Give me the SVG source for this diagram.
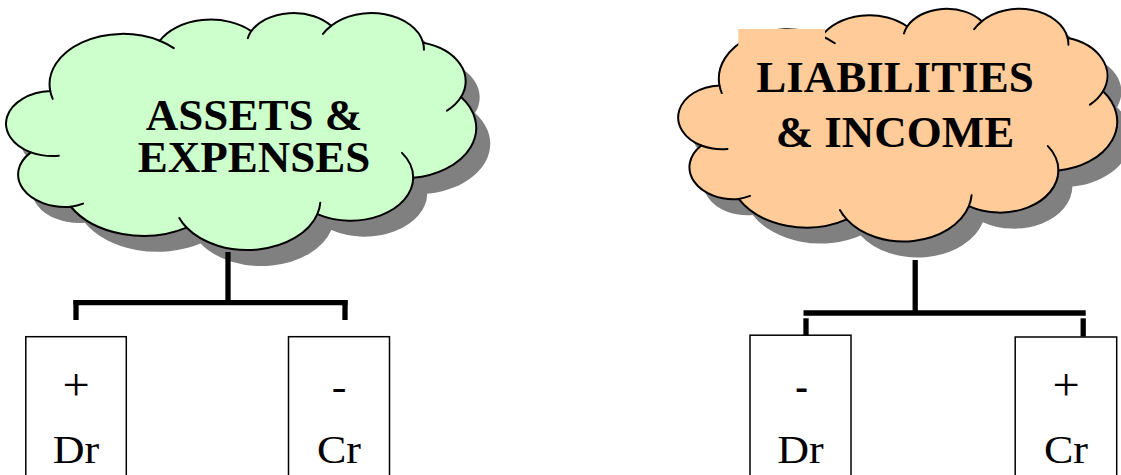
<svg xmlns="http://www.w3.org/2000/svg" xmlns:xlink="http://www.w3.org/1999/xlink" width="1121" height="475" viewBox="0 0 1121 475">
<defs>
<style>
.sh{fill:#808080;stroke:none}
.ol{stroke:#000;stroke-width:2;stroke-linejoin:round}
.cr{fill:none;stroke:#000;stroke-width:2;stroke-linecap:round}
.ct{font-family:"Liberation Serif","Times New Roman",serif;font-weight:bold;font-size:45px;text-anchor:middle;fill:#000}
.bx{fill:#fff;stroke:#000;stroke-width:1.5}
.bt{font-family:"Liberation Serif","Times New Roman",serif;font-size:40px;text-anchor:middle;fill:#000}
.pl{font-size:46px}
.cn{stroke:#000;stroke-width:5.3;fill:none;stroke-linecap:butt}
</style>
<path id="cloud" vector-effect="non-scaling-stroke" d="M3900,14370 A6753,9190 0 0 1 14005,5202 A5333,7267 0 0 1 22455,3429 A4365,5945 0 0 1 29833,2478 A4857,6595 0 0 1 38318,5573 A5333,7273 0 0 1 41819,15456 A6775,9220 0 0 1 37404,30198 A5785,7867 0 0 1 28556,36808 A6752,9215 0 0 1 16481,39261 A7720,10543 0 0 1 5803,35466 A4360,5918 0 0 1 2112,25544 A4345,5945 0 0 1 3900,14370 Z"/>
<path id="crease" vector-effect="non-scaling-stroke" d="M4693,26177 A4345,5945 0 0 1 2112,25544 M6928,34899 A4360,5918 0 0 1 5803,35466 M16481,39261 A6752,9215 0 0 1 15812,37520 M28827,34751 A6752,9215 0 0 1 28556,36808 M36369,25643 A5785,7867 0 0 1 37404,30198 M41819,15456 A5333,7273 0 0 1 40525,17946 M38318,5573 A4857,6595 0 0 1 38395,6836 M29078,3952 A4857,6595 0 0 1 29833,2478 M22141,4720 A4365,5945 0 0 1 22455,3429 M14005,5202 A6753,9190 0 0 1 15305,6551 M4127,15789 A6753,9190 0 0 1 3900,14370"/>
</defs>
<rect width="1121" height="475" fill="#fff"/>

<g id="assets-expenses">
<use href="#cloud" xlink:href="#cloud" class="sh" transform="translate(22,28.25) scale(0.010833,0.005484)"/>
<use href="#cloud" xlink:href="#cloud" class="ol" fill="#CCFFCC" transform="translate(8,12.25) scale(0.010833,0.005484)"/>
<use href="#crease" xlink:href="#crease" class="cr" transform="translate(8,12.25) scale(0.010833,0.005484)"/>
<text class="ct" x="254" y="129.5">ASSETS &amp;</text>
<text class="ct" x="254" y="172">EXPENSES</text>
</g>

<g id="liabilities-income">
<use href="#cloud" xlink:href="#cloud" class="sh" transform="translate(694,24) scale(0.010116,0.005385)"/>
<use href="#cloud" xlink:href="#cloud" class="ol" fill="#FFCC99" transform="translate(680,8) scale(0.010116,0.005385)"/>
<use href="#crease" xlink:href="#crease" class="cr" transform="translate(680,8) scale(0.010116,0.005385)"/>
<rect x="738.3" y="29" width="86.7" height="22" fill="#FFCC99"/>
<text class="ct" x="895" y="92">LIABILITIES</text>
<text class="ct" x="895" y="147">&amp; INCOME</text>
</g>

<g id="connectors">
<path class="cn" d="M228,252 V303"/>
<path class="cn" d="M73.5,302.7 H347.5"/>
<path class="cn" d="M76,300 V320"/>
<path class="cn" d="M345,300 V320"/>
<path class="cn" d="M915.2,260 V313"/>
<path class="cn" d="M803.5,313 H1085.7"/>
<path class="cn" d="M806,318.3 V335"/>
<path class="cn" d="M1083.2,318.3 V336.5"/>
</g>

<g id="ae-debit">
<rect class="bx" x="25.8" y="336.7" width="100.5" height="160"/>
<text class="bt pl" transform="translate(76,399.5) scale(1.05,1)">+</text>
<text class="bt" transform="translate(76,463) scale(1.1,1)">Dr</text>
</g>

<g id="ae-credit">
<rect class="bx" x="288.5" y="336.7" width="101" height="160"/>
<text class="bt" transform="translate(339,399.5) scale(1.1,1)">-</text>
<text class="bt" transform="translate(339,463) scale(1.1,1)">Cr</text>
</g>

<g id="li-debit">
<rect class="bx" x="750" y="335.2" width="101" height="160"/>
<text class="bt" font-weight="bold" font-size="52" transform="translate(801.5,400) scale(0.95,1)">-</text>
<text class="bt" transform="translate(800.5,462.5) scale(1.1,1)">Dr</text>
</g>

<g id="li-credit">
<rect class="bx" x="1015.2" y="337" width="101.5" height="160"/>
<text class="bt pl" transform="translate(1066,399.5) scale(1.05,1)">+</text>
<text class="bt" transform="translate(1066,462.5) scale(1.1,1)">Cr</text>
</g>
</svg>
